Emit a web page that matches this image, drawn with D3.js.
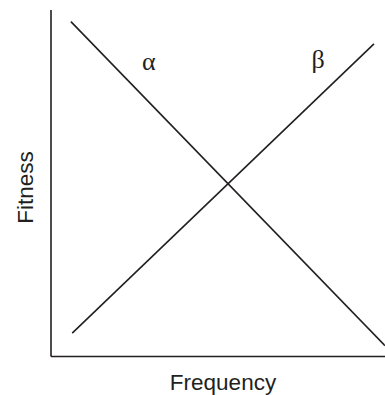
<!DOCTYPE html>
<html>
<head>
<meta charset="utf-8">
<script src="https://cdn.jsdelivr.net/npm/d3@7"></script>
<style>
  html, body { margin: 0; padding: 0; background: #fff; }
  svg { display: block; }
</style>
</head>
<body>
<svg id="area" width="385" height="395"></svg>
<script>
// frequency / fitness pairs
const alphaFreq = [0.061, 1.0];
const alphaFit = [0.965, 0.030];
const betaFreq = [0.065, 0.967];
const betaFit = [0.066, 0.901];
const seriesNames = ['α', 'β'];
const labelFreq = [0.294, 0.80];
const labelFit = [0.825, 0.831];

const svg = d3.select('#area');
const ink = '#231f20';

const x = d3.scaleLinear().domain([0, 1]).range([50.5, 385]);
const y = d3.scaleLinear().domain([0, 1]).range([356, 9.5]);

const series = [
  alphaFreq.map((f, i) => [f, alphaFit[i]]),
  betaFreq.map((f, i) => [f, betaFit[i]]),
];

const line = d3.line()
  .x((d) => x(d[0]))
  .y((d) => y(d[1]));

// axes: plain lines, no ticks
svg.append('g')
  .attr('transform', `translate(${x(0)},0)`)
  .call(d3.axisLeft(y).ticks(0).tickSize(0))
  .call((g) => g.select('.domain').attr('stroke', ink).attr('stroke-width', 1.6));

svg.append('g')
  .attr('transform', `translate(0,${y(0)})`)
  .call(d3.axisBottom(x).ticks(0).tickSize(0))
  .call((g) => g.select('.domain').attr('stroke', ink).attr('stroke-width', 1.6));

svg.append('g')
  .selectAll('path')
  .data(series)
  .join('path')
  .attr('d', line)
  .attr('fill', 'none')
  .attr('stroke', ink)
  .attr('stroke-width', 1.6);

svg.append('g')
  .style('font', '26px "Liberation Serif", serif')
  .attr('fill', ink)
  .selectAll('text')
  .data(seriesNames)
  .join('text')
  .attr('x', (d, i) => x(labelFreq[i]))
  .attr('y', (d, i) => y(labelFit[i]))
  .attr('text-anchor', 'middle')
  .text((d) => d);

svg.append('text')
  .attr('x', 223)
  .attr('y', 390)
  .attr('text-anchor', 'middle')
  .attr('fill', ink)
  .style('font', '22.5px "Liberation Sans", Arial, sans-serif')
  .text('Frequency');

svg.append('text')
  .attr('transform', 'translate(33,187.5) rotate(-90)')
  .attr('text-anchor', 'middle')
  .attr('fill', ink)
  .style('font', '22.5px "Liberation Sans", Arial, sans-serif')
  .text('Fitness');
</script>
</body>
</html>
